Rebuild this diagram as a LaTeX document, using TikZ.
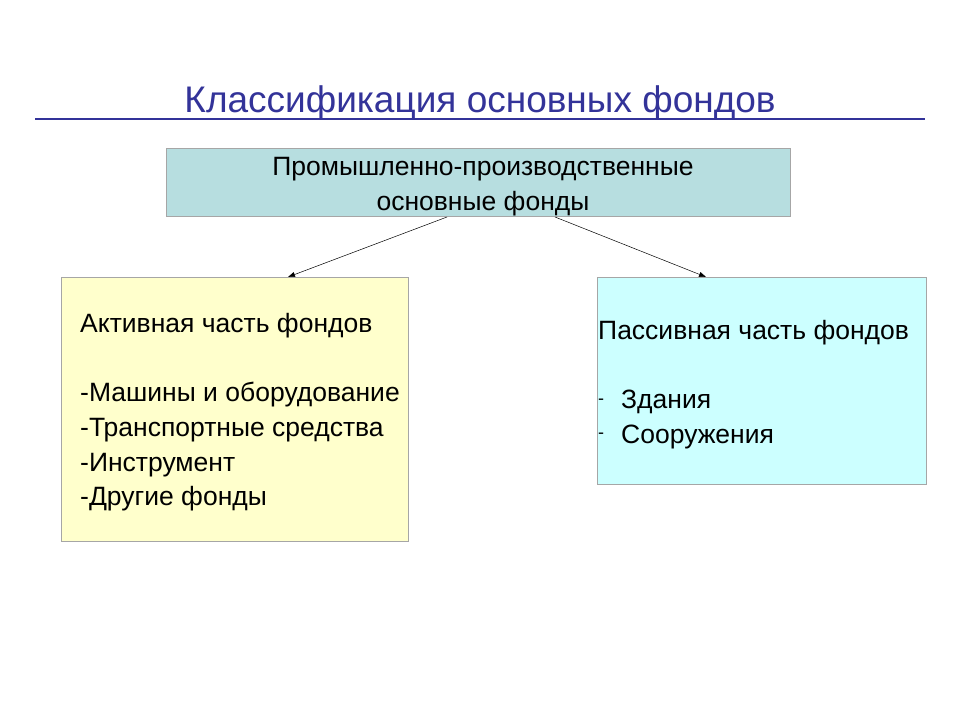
\documentclass[tikz,border=0pt]{standalone}
\usepackage{fontspec}
\setmainfont{Liberation Sans}
\usetikzlibrary{arrows.meta}
\definecolor{titleblue}{HTML}{333399}
\definecolor{topfill}{HTML}{B7DEE0}
\definecolor{leftfill}{HTML}{FFFFCC}
\definecolor{rightfill}{HTML}{CCFFFF}
\begin{document}
\begin{tikzpicture}[x=1pt,y=-1pt,
  box/.style={draw=gray!70,line width=0.6pt,inner sep=0pt},
  txt/.style={anchor=base west,inner sep=0pt,font=\fontsize{26.5}{30}\selectfont},
  conn/.style={line width=0.5pt,-{Triangle[length=7pt,width=5pt]}}]
\useasboundingbox (0,0) rectangle (960,720);
\fill[white] (0,0) rectangle (960,720);
\node[anchor=base,inner sep=0pt,text=titleblue,font=\fontsize{37}{42}\selectfont] (title) at (480,112) {Классификация основных фондов};
\draw[titleblue,line width=2pt] (35,119) coordinate (ul1) -- (925,119) coordinate (ul2);
\draw[box,fill=topfill] (166,148) rectangle (790,216);
\node[anchor=base,inner sep=0pt,font=\fontsize{26.5}{30}\selectfont] (t1) at (483,175) {Промышленно-производственные};
\node[anchor=base,inner sep=0pt,font=\fontsize{26.5}{30}\selectfont] (t2) at (483,210) {основные фонды};
\draw[box,fill=leftfill] (61,277) rectangle (408,541);
\draw[box,fill=rightfill] (597,277) rectangle (926,484);
\coordinate (s1) at (447,217); \coordinate (e1) at (288,277);
\coordinate (s2) at (555,217); \coordinate (e2) at (706,277);
\draw[conn] (s1) -- (e1);
\draw[conn] (s2) -- (e2);
\node[txt] (a0) at (80,332) {Активная часть фондов};
\node[txt] (a1) at (80,401) {-Машины и оборудование};
\node[txt] (a2) at (80,436) {-Транспортные средства};
\node[txt] (a3) at (80,471) {-Инструмент};
\node[txt] (a4) at (80,505) {-Другие фонды};
\node[txt] (p0) at (598,339) {Пассивная часть фондов};
\node[txt,font=\fontsize{18}{20}\selectfont] (d1) at (598,404) {-};
\node[txt,font=\fontsize{18}{20}\selectfont] (d2) at (598,438) {-};
\node[txt] (p1) at (621,408) {Здания};
\node[txt] (p2) at (621,443) {Сооружения};
\end{tikzpicture}
\end{document}
